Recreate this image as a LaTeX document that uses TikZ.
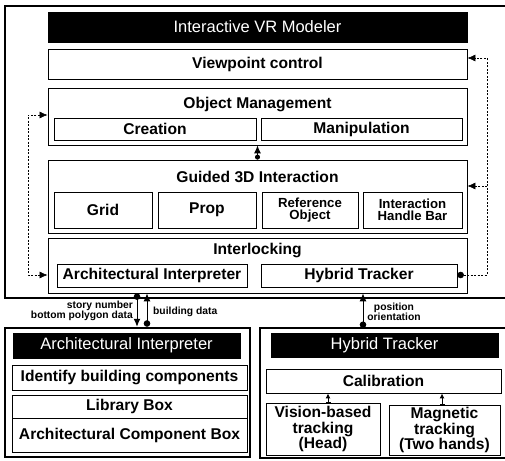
\documentclass[tikz,border=0pt]{standalone}
\usepackage{fontspec}
\setmainfont{Liberation Sans}
\usetikzlibrary{arrows.meta}
\begin{document}
\begin{tikzpicture}[x=1pt,y=-1pt,
  box/.style={draw, line width=0.8pt, inner sep=1pt, align=center,
    font=\fontsize{15.6}{15.5}\selectfont\bfseries},
  sbox/.style={box, font=\fontsize{13.2}{12.5}\selectfont\bfseries},
  bar/.style={fill=black, draw=black, text=white, inner sep=1pt,
    font=\fontsize{16.5}{18}\selectfont},
  lbl/.style={inner sep=0pt, font=\fontsize{15.6}{15.5}\selectfont\bfseries},
  tiny/.style={inner sep=0pt, font=\fontsize{10.3}{9.5}\selectfont\bfseries},
  thickframe/.style={line width=2.5pt},
  fb/.style={dash pattern=on 2pt off 1.5pt, line width=0.6pt},
  tipA/.tip={Latex[length=8pt,width=7pt]},
  tipD/.tip={Circle[length=6.5pt]},
  conn/.style={line width=1pt}
]
\useasboundingbox (0,0) rectangle (505,460);

% ---------- top frame ----------
\node[minimum width=500pt, minimum height=292pt, inner sep=0pt, outer sep=0pt] (topframe) at (255,152) {};
\draw[thickframe] (topframe.north east) -- (topframe.north west) -- (topframe.south west) -- (topframe.south east);

\node[bar, minimum width=419pt, minimum height=30pt] (title) at (257.5,27) {Interactive VR Modeler};
\node[box, minimum width=419pt, minimum height=30pt] (vp) at (257.5,64) {Viewpoint control};

\node[box, minimum width=419pt, minimum height=57pt] (om) at (257.5,116.5) {};
\node[lbl, anchor=base] (omlbl) at (257.5,108) {Object Management};
\node[box, minimum width=202pt, minimum height=22pt] (creation) at (155,129) {Creation};
\node[box, minimum width=201pt, minimum height=22pt] (manip) at (361.5,129) {Manipulation};

\node[box, minimum width=419pt, minimum height=73pt] (g3d) at (257.5,196.5) {};
\node[lbl, anchor=base] (g3dlbl) at (257.5,182) {Guided 3D Interaction};
\node[box, minimum width=98pt, minimum height=36pt] (grid) at (103,210) {Grid};
\node[box, minimum width=98pt, minimum height=36pt] (prop) at (207,210) {Prop};
\node[sbox, minimum width=96pt, minimum height=36pt] (refobj) at (310,210) {Reference\\Object};
\node[sbox, minimum width=99pt, minimum height=36pt] (ihb) at (412.5,210) {Interaction\\Handle Bar};

\node[box, minimum width=419pt, minimum height=55pt] (il) at (257.5,265.5) {};
\node[lbl, anchor=base] (illbl) at (257.5,254) {Interlocking};
\node[box, minimum width=190pt, minimum height=23pt] (aisub) at (152,275.5) {Architectural Interpreter};
\node[box, minimum width=196pt, minimum height=23pt] (htsub) at (359,275.5) {Hybrid Tracker};

% connector OM - G3D
\draw[conn, {tipD[length=5pt]}-{tipA}] (g3d.north) -- (om.south);

% dashed feedback loops
\coordinate (lA) at (28,115);
\coordinate (lB) at (28,275);
\draw[fb, tipA-tipA] (om.west |- lA) -- (lA) -- (lB) -- (il.west |- lB);
\coordinate (rA) at (487,58);
\coordinate (rB) at (487,186);
\coordinate (rC) at (487,275);
\draw[fb, tipD-tipA] (htsub.east |- rC) -- (rC) -- (rA) -- (vp.east |- rA);
\draw[fb, -tipA] (rB) -- (g3d.east |- rB);

% ---------- Architectural Interpreter ----------
\node[draw, thickframe, minimum width=245pt, minimum height=129pt, inner sep=0pt] (aiframe) at (127.5,392.5) {};
\node[bar, minimum width=227pt, minimum height=25pt] (aititle) at (126.5,345.5) {Architectural Interpreter};
\node[box, minimum width=235pt, minimum height=25pt] (identify) at (129.5,377.5) {Identify building components};
\node[box, minimum width=235pt, minimum height=23pt] (library) at (129.5,406.5) {Library Box};
\node[box, minimum width=235pt, minimum height=34pt] (acb) at (129.5,435) {Architectural Component Box};

% ---------- Hybrid Tracker ----------
\node[minimum width=245pt, minimum height=130pt, inner sep=0pt, outer sep=0pt] (htframe) at (382.5,393) {};
\draw[thickframe] (htframe.north east) -- (htframe.north west) -- (htframe.south west) -- (htframe.south east);
\node[bar, minimum width=227pt, minimum height=24pt] (httitle) at (384.5,345) {Hybrid Tracker};
\node[box, minimum width=235pt, minimum height=24pt] (calib) at (383.5,381) {Calibration};
\node[box, minimum width=114pt, minimum height=52pt] (vision) at (323,429) {Vision-based\\tracking\\(Head)};
\node[box, minimum width=111pt, minimum height=50pt] (magnetic) at (444.5,430) {Magnetic\\tracking\\(Two hands)};

\coordinate (cA) at (328,0);
\coordinate (cB) at (442,0);
\draw[conn, {Bar[width=5pt]}-{Latex[length=5pt,width=5pt]}] (vision.north -| cA) -- (calib.south -| cA);
\draw[conn, {Bar[width=5pt]}-{Latex[length=5pt,width=5pt]}] (magnetic.north -| cB) -- (calib.south -| cB);

% ---------- inter-module connectors ----------
\coordinate (xA) at (137,0);
\coordinate (xB) at (147,0);
\coordinate (xC) at (363,0);
\draw[conn, tipD-tipA] (il.south -| xA) -- (aiframe.north -| xA);
\draw[conn, tipD-tipA] (aiframe.north -| xB) -- (il.south -| xB);
\draw[conn, tipD-tipA] (htframe.north -| xC) -- (il.south -| xC);

\node[tiny, align=right, anchor=east] (lblstory) at (133,311) {story number\\bottom polygon data};
\node[tiny, anchor=west] (lblbuild) at (153,312) {building data};
\node[tiny, align=center] (lblpos) at (394,312) {position\\orientation};
\end{tikzpicture}
\end{document}
